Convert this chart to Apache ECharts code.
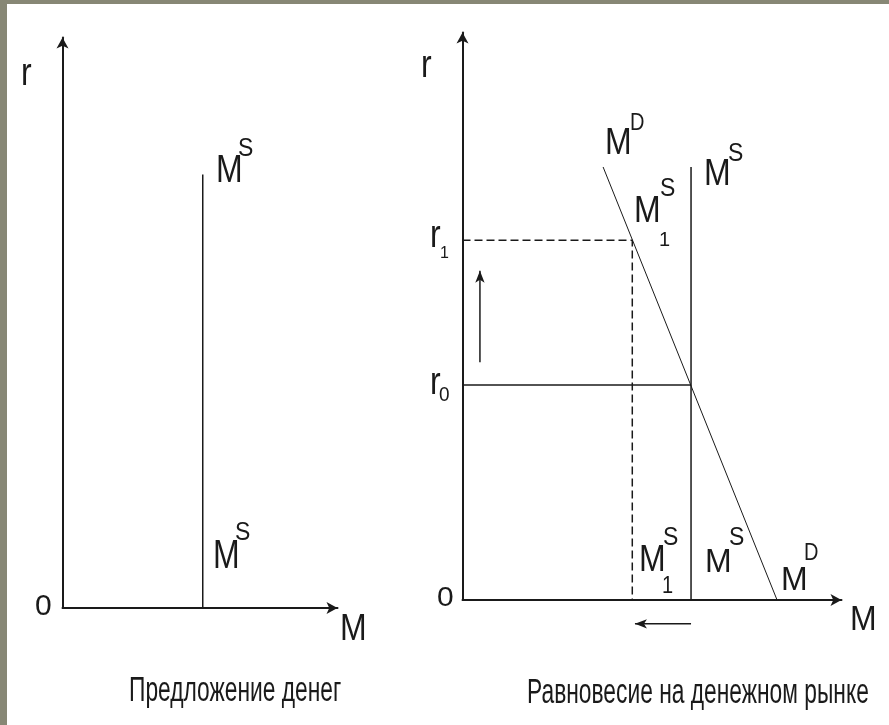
<!DOCTYPE html>
<html>
<head>
<meta charset="utf-8">
<script src="https://cdn.jsdelivr.net/npm/echarts@6/dist/echarts.min.js"></script>
<style>
  html, body { margin: 0; padding: 0; background: #878775; }
  #chart { width: 889px; height: 725px; }
</style>
</head>
<body>
<div id="chart"></div>
<script>
// left panel: money supply
const supplyLeft = [[5.1, 0], [5.1, 7.6]];
// right panel: money market equilibrium
const supplyRight = [[6.03, 0], [6.03, 7.63]];
const demandRight = [[3.71, 7.63], [8.3, 0]];
const rateR0 = [[0, 3.79], [6.03, 3.79]];
const rateR1 = [[0, 6.34], [4.48, 6.34], [4.48, 0]];
const arrowUp = [[0.46, 4.19], [0.46, 5.8]];
const arrowLeft = [[6.03, -0.42], [4.55, -0.42]];
const titles = ["Предложение денег", "Равновесие на денежном рынке"];

const chart = echarts.init(document.getElementById("chart"));
const INK = "#1a1a1a";
const FONT = "'Liberation Sans', Arial, sans-serif";

// text with vertical stretch, positioned by left x and baseline
function txt(text, x, baseline, size, sy) {
  return {
    type: "group",
    x: x,
    y: baseline - 0.347 * size * sy,
    scaleY: sy,
    children: [{
      type: "text",
      x: 0,
      y: 0,
      style: {
        text: text,
        fill: INK,
        font: size + "px " + FONT,
        textAlign: "left",
        textVerticalAlign: "middle"
      }
    }]
  };
}

function axisSet(grid) {
  return {
    gridIndex: grid,
    type: "value",
    min: 0,
    max: 10,
    axisLine: {
      show: true,
      onZero: false,
      symbol: ["none", "arrow"],
      symbolSize: [9, 11],
      lineStyle: { color: INK, width: 2 }
    },
    axisTick: { show: false },
    axisLabel: { show: false },
    splitLine: { show: false }
  };
}

function seg(data, xi, width, type) {
  return {
    type: "line",
    xAxisIndex: xi,
    yAxisIndex: xi,
    data: data,
    symbol: "none",
    silent: true,
    lineStyle: { color: INK, width: width, type: type || "solid" }
  };
}

function arrow(data, rot) {
  return {
    type: "line",
    xAxisIndex: 1,
    yAxisIndex: 1,
    clip: false,
    silent: true,
    data: [
      { value: data[0], symbol: "none" },
      { value: data[1], symbol: "arrow", symbolSize: [7, 12], symbolRotate: rot }
    ],
    itemStyle: { color: INK },
    lineStyle: { color: INK, width: 1.5 }
  };
}

const M = 32, MS = 1.13, SUP = 23, SS = 1.1;

const option = {
  animation: false,
  backgroundColor: "#878775",
  grid: [
    { left: 62.5, top: 37.5, width: 275, height: 570.5 },
    { left: 462.5, top: 32.5, width: 379, height: 567.5 }
  ],
  xAxis: [axisSet(0), axisSet(1)],
  yAxis: [axisSet(0), axisSet(1)],
  graphic: [
    { type: "rect", z: -10, shape: { x: 7, y: 4, width: 882, height: 721 }, style: { fill: "#ffffff" } },
    // left panel labels
    txt("r", 21, 88, M, 1.2),
    txt("M", 216, 185, M, 1.22), txt("S", 238, 158, SUP, 1.15),
    txt("M", 213, 571, M, 1.26), txt("S", 235, 542, SUP, 1.15),
    txt("0", 35, 617, 30, 1.0),
    txt("M", 340, 643, M, MS),
    txt(titles[0], 129, 703, 22.8, 1.5),
    // right panel labels
    txt("r", 421, 80, M, 1.2),
    txt("M", 605, 157, M, 1.18), txt("D", 630, 132, 20, 1.2),
    txt("M", 704, 188, M, MS), txt("S", 728, 163, SUP, SS),
    txt("M", 634, 225, M, 1.18), txt("S", 660, 198, SUP, SS), txt("1", 659, 247, 20, 1.05),
    txt("r", 430, 250, M, 1.2), txt("1", 440, 259, 16, 1.05),
    txt("r", 430, 397, M, 1.2), txt("0", 439, 402, 19, 1.1),
    txt("M", 639, 574, M, MS), txt("S", 663, 547, SUP, SS), txt("1", 662, 595, 20, 1.15),
    txt("M", 705, 574, M, 1.05), txt("S", 729, 547, SUP, SS),
    txt("M", 781, 592, M, 1.02), txt("D", 804, 562, 20, 1.2),
    txt("0", 437, 608, 30, 0.95),
    txt("M", 850, 632, M, 1.08),
    txt(titles[1], 527, 705, 22.8, 1.5)
  ],
  series: [
    seg(supplyLeft, 0, 1.5),
    seg(supplyRight, 1, 1.5),
    seg(demandRight, 1, 1),
    seg(rateR0, 1, 1.5),
    seg(rateR1, 1, 1.5, [8, 4]),
    arrow(arrowUp, 0),
    arrow(arrowLeft, 90)
  ]
};

chart.setOption(option);
</script>
</body>
</html>
